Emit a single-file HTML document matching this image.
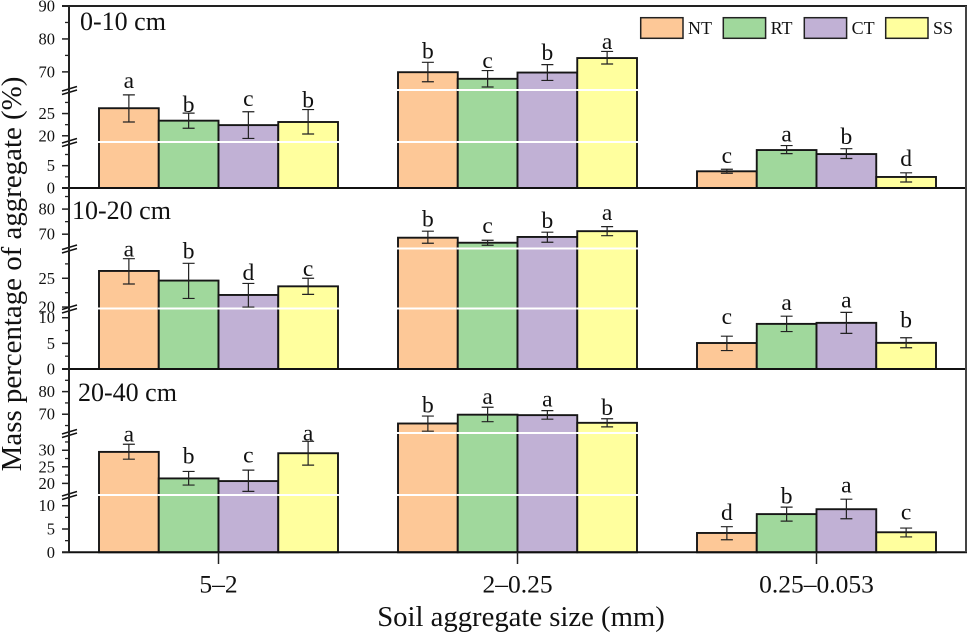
<!DOCTYPE html>
<html lang="en">
<head>
<meta charset="utf-8">
<title>Mass percentage of aggregate by soil aggregate size</title>
<style>
html,body{margin:0;padding:0;background:#fff;width:967px;height:633px;overflow:hidden}
svg{display:block}
text{font-family:"Liberation Serif",serif;fill:#111}
</style>
</head>
<body>
<svg id="chart" xmlns="http://www.w3.org/2000/svg" width="967" height="633" viewBox="0 0 967 633"></svg>
<script>
var categories = ['5–2', '2–0.25', '0.25–0.053'];
var treatments = ['NT', 'RT', 'CT', 'SS'];
var panelTitles = ['0-10 cm', '10-20 cm', '20-40 cm'];

var means010 = [[26.2, 23.4, 22.4, 23.1], [69.9, 67.9, 69.8, 74.2], [3.74, 8.5, 7.6, 2.47]];
var errHigh010 = [[29.2, 25.1, 25.4, 25.9], [72.9, 70.4, 72.2, 76.2], [4.2, 9.5, 8.8, 3.4]];
var errLow010 = [[23.1, 21.7, 19.4, 20.4], [67, 65.4, 67.4, 72.4], [3.3, 7.7, 6.6, 1.35]];
var letters010 = [['a', 'b', 'c', 'b'], ['b', 'c', 'b', 'a'], ['c', 'a', 'b', 'd']];

var means1020 = [[26.27, 24.6, 22.1, 23.6], [68.6, 66.6, 68.9, 71.2], [5.07, 8.8, 9, 5.1]];
var errHigh1020 = [[28.4, 27.6, 24.1, 25], [71.2, 67.6, 70.8, 73], [6.4, 10.3, 11.05, 6.1]];
var errLow1020 = [[24, 21.5, 20, 22.2], [66.4, 65.6, 66.8, 69.4], [3.6, 7.3, 6.95, 4.15]];
var letters1020 = [['a', 'b', 'd', 'c'], ['b', 'c', 'b', 'a'], ['c', 'a', 'a', 'b']];

var means2040 = [[29.5, 21.5, 20.7, 29.1], [65.9, 69.8, 69.6, 66.2], [4.15, 8.2, 9.25, 4.3]];
var errHigh2040 = [[31.8, 23.6, 24, 32.7], [69.2, 73.1, 71.6, 68], [5.5, 9.7, 11.4, 5.2]];
var errLow2040 = [[27.3, 19.5, 17.6, 25.5], [62.5, 66.7, 67.8, 64.4], [2.7, 6.7, 7.2, 3.3]];
var letters2040 = [['a', 'b', 'c', 'a'], ['b', 'a', 'a', 'b'], ['d', 'b', 'a', 'c']];

var majorTicks010 = [0, 5, 20, 25, 70, 80, 90];
var minorTicks010 = [2.5, 7.5, 22.5, 27.5, 75, 85];
var majorTicks1020 = [0, 5, 10, 20, 25, 70, 80];
var minorTicks1020 = [2.5, 7.5, 22.5, 27.5, 75, 85];
var majorTicks2040 = [0, 5, 10, 20, 25, 30, 70, 80];
var minorTicks2040 = [2.5, 7.5, 22.5, 27.5, 32.5, 65, 75, 85];

var fills = {NT: '#FDC897', RT: '#A0D89C', CT: '#C1B1D5', SS: '#FFFF9E'};
var svg = document.getElementById('chart');

function add(tag, attrs, parent, content) {
  var node = document.createElementNS('http://www.w3.org/2000/svg', tag);
  for (var k in attrs) node.setAttribute(k, attrs[k]);
  if (content !== undefined) node.textContent = content;
  (parent || svg).appendChild(node);
  return node;
}

/* Piecewise-linear broken y axis: each panel has three linear segments */
function brokenScale(domain, range) {
  return function (v) {
    for (var i = 0; i < domain.length - 1; i++) {
      if (v <= domain[i + 1] || i === domain.length - 2) {
        var t = (v - domain[i]) / (domain[i + 1] - domain[i]);
        return range[i] + t * (range[i + 1] - range[i]);
      }
    }
  };
}

var AXIS_X = 69, RIGHT_X = 966, BAR_W = 59.75;
function groupCenter(i) { return 218.5 + 299 * i; }
function barLeft(i, j) { return groupCenter(i) + (j - 2) * BAR_W; }

var panels = [
  {key: '0-10', title: panelTitles[0], titleX: 80, titleY: 30, means: means010, hi: errHigh010, lo: errLow010, letters: letters010,
   major: majorTicks010, minor: minorTicks010,
   letterGap: [[6.7, 1, 5.7, 2], [4, 2.4, 4.7, 2.4], [6, 4, 4.7, 6.7]],
   scale: brokenScale([0, 10.3, 18.6, 30.3, 64.5, 90], [188, 142, 142, 90, 90, 6]),
   breaks: [{v: 10.3, y: 142}, {v: 64.5, y: 90}], zero: 188},
  {key: '10-20', title: panelTitles[1], titleX: 72, titleY: 219, means: means1020, hi: errHigh1020, lo: errLow1020, letters: letters1020,
   major: majorTicks1020, minor: minorTicks1020,
   letterGap: [[2, 5, 3.3, 2.3], [4.6, 7, 4, 6.7], [12.3, 6.3, 5, 10.4]],
   scale: brokenScale([0, 11.8, 19.75, 30.17, 64.3, 88.4], [369, 308.5, 308.5, 248.5, 248.5, 188]),
   breaks: [{v: 11.8, y: 308.5}, {v: 64.3, y: 248.5}], zero: 369},
  {key: '20-40', title: panelTitles[2], titleX: 78, titleY: 401, means: means2040, hi: errHigh2040, lo: errLow2040, letters: letters2040,
   major: majorTicks2040, minor: minorTicks2040,
   letterGap: [[2.6, 8, 7.7, 0.6], [3.3, 3.3, 4, 4], [6.7, 3.7, 6.6, 8.7]],
   scale: brokenScale([0, 12.3, 16.5, 35.2, 61.7, 90], [552.3, 495, 495, 433, 433, 369]),
   breaks: [{v: 12.3, y: 495}, {v: 61.7, y: 433}], zero: 552.3}
];

panels.forEach(function (p) {
  var g = add('g', {});
  
  

  /* bars, white break bands, error bars, letters */
  p.means.forEach(function (row, i) {
    row.forEach(function (val, j) {
      var t = treatments[j];
      var x = barLeft(i, j), cx = x + BAR_W / 2, top = p.scale(val);
      var bar = add('rect', {x: x, y: top, width: BAR_W, height: p.zero - top, fill: fills[t], stroke: '#161616', 'stroke-width': 1.9}, g);
      
      

      p.breaks.forEach(function (b) {
        if (val > b.v) {
          var band = add('line', {x1: x - 1, x2: x + BAR_W + 1, y1: b.y, y2: b.y, stroke: '#fff', 'stroke-width': 2}, g);
          
          
        }
      });

      var yHi = p.scale(p.hi[i][j]), yLo = p.scale(p.lo[i][j]);
      var err = add('path', {d: 'M' + (cx - 6) + ' ' + yHi + 'H' + (cx + 6) + 'M' + cx + ' ' + yHi + 'V' + yLo + 'M' + (cx - 6) + ' ' + yLo + 'H' + (cx + 6), fill: 'none', stroke: '#222', 'stroke-width': 1.2}, g);
      
      

      var letter = add('text', {x: cx, y: yHi - p.letterGap[i][j], 'text-anchor': 'middle', 'font-size': 23.5}, g, p.letters[i][j]);
      
      
    });
  });

  /* baseline */
  var base = add('line', {x1: 62, x2: RIGHT_X + 1, y1: p.zero, y2: p.zero, stroke: '#111', 'stroke-width': 2}, g);
  
  

  /* y ticks */
  p.major.forEach(function (v) {
    var y = p.scale(v);
    var tick = add('line', {x1: 62, x2: AXIS_X, y1: y, y2: y, stroke: '#222', 'stroke-width': 1.5}, g);
    
    
    var label = add('text', {x: 55, y: y + 5.5, 'text-anchor': 'end', 'font-size': 16.5}, g, String(v));
    
    
  });
  p.minor.forEach(function (v) {
    var y = p.scale(v);
    var tick = add('line', {x1: 65, x2: AXIS_X, y1: y, y2: y, stroke: '#222', 'stroke-width': 1.3}, g);
    
    
  });

  /* axis break marks */
  p.breaks.forEach(function (b) {
    var y = b.y - 0.5;
    var mark = add('path', {d: 'M62 ' + (y + 1.5) + 'L77 ' + (y - 3) + 'M62 ' + (y + 5) + 'L77 ' + (y + 0.5), fill: 'none', stroke: '#111', 'stroke-width': 1.5}, g);
    
    
  });

  var title = add('text', {x: p.titleX, y: p.titleY, 'font-size': 26}, g, p.title);
  
  
});

/* frame */
var yAxis = add('line', {x1: AXIS_X, x2: AXIS_X, y1: 6, y2: 552.3, stroke: '#222', 'stroke-width': 2});


var topLine = add('line', {x1: 62, x2: RIGHT_X + 1, y1: 6, y2: 6, stroke: '#222', 'stroke-width': 2});


var rightLine = add('line', {x1: RIGHT_X, x2: RIGHT_X, y1: 6, y2: 552.3, stroke: '#444', 'stroke-width': 2});



/* x categories */
categories.forEach(function (c, i) {
  var cx = groupCenter(i);
  var tick = add('line', {x1: cx, x2: cx, y1: 552, y2: 564, stroke: '#222', 'stroke-width': 1.5});
  
  
  var label = add('text', {x: cx, y: 592.5, 'text-anchor': 'middle', 'font-size': 25.5}, svg, c);
  
  
});

/* legend */
var legendBoxX = [640.7, 723.3, 804.3, 885.7];
treatments.forEach(function (t, j) {
  var box = add('rect', {x: legendBoxX[j], y: 17.7, width: 42.3, height: 20.6, fill: fills[t], stroke: '#222', 'stroke-width': 1.5});
  
  
  var label = add('text', {x: legendBoxX[j] + 47.3, y: 34.2, 'font-size': 18}, svg, t);
  
  
});

/* axis titles */
var xTitle = add('text', {x: 521, y: 626, 'text-anchor': 'middle', 'font-size': 28.7}, svg, 'Soil aggregate size (mm)');


var yTitle = add('text', {x: 0, y: 0, 'text-anchor': 'middle', 'font-size': 28.9, transform: 'translate(21 274) rotate(-90)'}, svg, 'Mass percentage of aggregate (%)');


</script>
</body>
</html>
